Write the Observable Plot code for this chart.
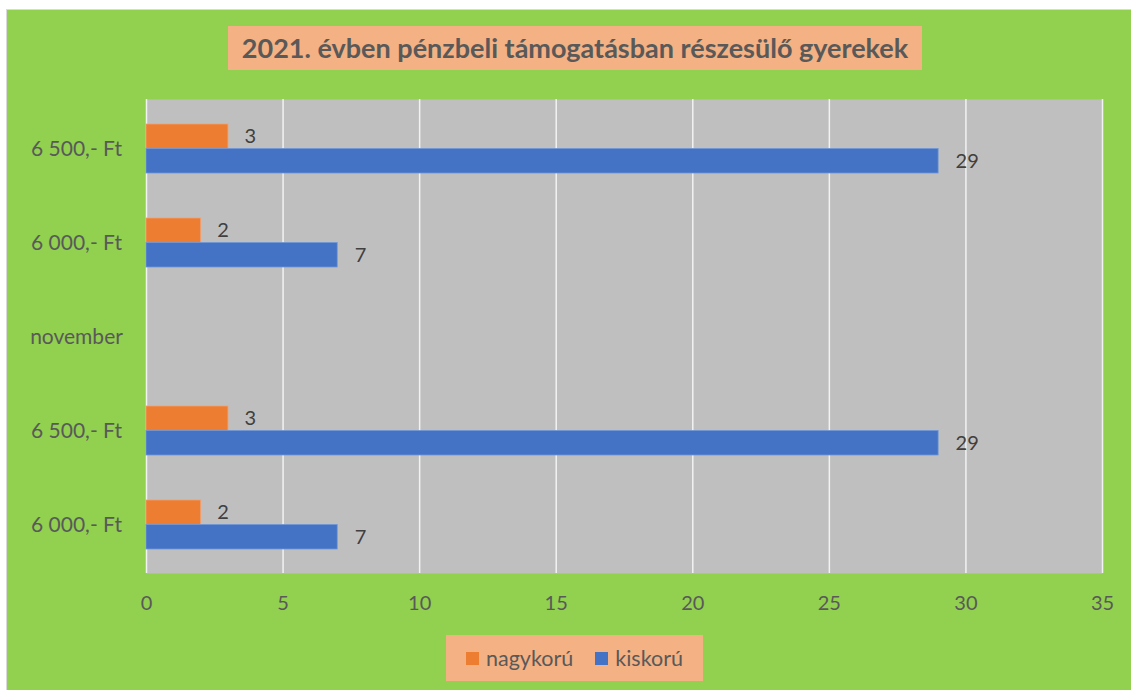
<!DOCTYPE html>
<html>
<head>
<meta charset="utf-8">
<script src="https://cdn.jsdelivr.net/npm/d3@7"></script>
<script src="https://cdn.jsdelivr.net/npm/@observablehq/plot@0.6"></script>
<style>
  html, body { margin: 0; padding: 0; background: #ffffff; }
  body { width: 1131px; height: 690px; position: relative; overflow: hidden; font-family: Lato, "Liberation Sans", sans-serif; }
  #frame { position: absolute; left: 6px; top: 9px; width: 1125px; height: 681px; background: #92D050; border-left: 1px solid #D9D9D9; border-top: 1px solid #D9D9D9; box-sizing: border-box; }
  #title { position: absolute; left: 228px; top: 26px; width: 694px; height: 44px; background: #F4B183; color: #595959; font-weight: bold; font-size: 27px; line-height: 44px; text-align: center; white-space: nowrap; }
  #chart { position: absolute; left: 0; top: 80px; }
  #legend { position: absolute; left: 446px; top: 635px; width: 257px; height: 46px; background: #F4B183; color: #595959; font-size: 21.5px; display: flex; align-items: center; justify-content: center; gap: 22px; }
  .item { display: flex; align-items: center; gap: 7px; }
  .sw { width: 13px; height: 13px; display: inline-block; }
</style>
</head>
<body>
<div id="frame"></div>
<div id="title">2021. évben pénzbeli támogatásban részesülő gyerekek</div>
<div id="chart"></div>
<div id="legend"></div>
<script>
const categories = ["6 500,- Ft", "6 000,- Ft", "november", "6 500,- Ft", "6 000,- Ft"];
const nagykoru = [3, 2, null, 3, 2];
const kiskoru = [29, 7, null, 29, 7];
const seriesNames = ["nagykorú", "kiskorú"];
const seriesColors = ["#ED7D31", "#4472C4"];
const xTicks = [0, 5, 10, 15, 20, 25, 30, 35];

const keys = categories.map((c, i) => "k" + i);
const rows = categories.map((c, i) => ({key: keys[i], label: c, n: nagykoru[i], k: kiskoru[i]}));
const nRows = rows.filter(d => d.n != null);
const kRows = rows.filter(d => d.k != null);

const W = 1131, H = 550;
const mT = 19, mB = 57, mL = 146, mR = 29;
const bw = (H - mT - mB) / categories.length * (1 - 0.483);

const plot = Plot.plot({
  width: W,
  height: H,
  marginTop: mT,
  marginBottom: mB,
  marginLeft: mL,
  marginRight: mR,
  style: {background: "transparent", fontFamily: "Lato, 'Liberation Sans', sans-serif"},
  x: {domain: [0, 35], ticks: xTicks},
  y: {domain: keys, paddingInner: 0.483, paddingOuter: 0.2415, axis: null},
  marks: [
    Plot.frame({fill: "#BFBFBF", stroke: null}),
    Plot.ruleX(xTicks, {stroke: "#F2F2F2", strokeWidth: 1.5}),
    Plot.barX(nRows, {x: "n", y: "key", fill: seriesColors[0], insetBottom: bw / 2, stroke: "#F0A070", strokeWidth: 0.8}),
    Plot.barX(kRows, {x: "k", y: "key", fill: seriesColors[1], insetTop: bw / 2, stroke: "#7096D8", strokeWidth: 0.8}),
    Plot.text(nRows, {x: "n", y: "key", text: d => String(d.n), dx: 16, dy: -bw / 4, textAnchor: "start", fontSize: 20, fill: "#404040"}),
    Plot.text(kRows, {x: "k", y: "key", text: d => String(d.k), dx: 17, dy: bw / 4, textAnchor: "start", fontSize: 20, fill: "#404040"}),
    Plot.text(rows, {y: "key", text: "label", frameAnchor: "left", dx: -70, textAnchor: "middle", fontSize: 21, fill: "#595959"}),
    Plot.axisX(xTicks, {tickSize: 0, tickPadding: 22, fontSize: 20, color: "#595959", label: null, tickFormat: d => String(d)})
  ]
});
document.getElementById("chart").appendChild(plot);

const legend = document.getElementById("legend");
seriesNames.forEach((name, i) => {
  const item = document.createElement("div");
  item.className = "item";
  const sw = document.createElement("span");
  sw.className = "sw";
  sw.style.background = seriesColors[i];
  const t = document.createElement("span");
  t.textContent = name;
  item.appendChild(sw);
  item.appendChild(t);
  legend.appendChild(item);
});
</script>
</body>
</html>
